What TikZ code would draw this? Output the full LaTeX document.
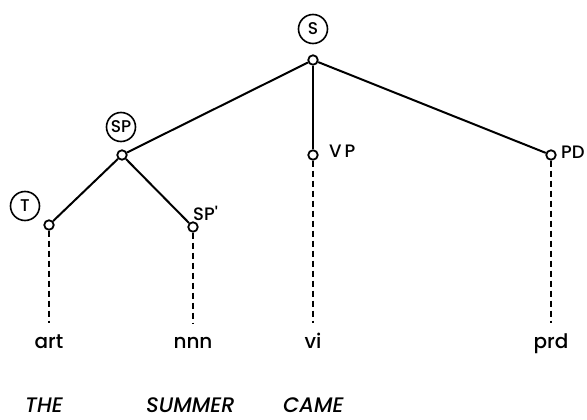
\documentclass[tikz,border=0pt]{standalone}
\usepackage{fontspec}
\setmainfont{Poppins}[UprightFont=* Medium, ItalicFont=* Medium Italic]
\begin{document}
\begin{tikzpicture}[x=1pt,y=-1pt,
  jn/.style={circle,draw,fill=white,line width=1.8pt,inner sep=0pt,minimum size=9.5pt},
  ring/.style={circle,draw,line width=1.6pt,inner sep=0pt,minimum size=29pt,font=\fontsize{17}{18}\selectfont},
  lab/.style={font=\fontsize{18}{20}\selectfont,inner sep=0pt,anchor=west},
  leaf/.style={font=\fontsize{20}{22}\selectfont,inner sep=0pt,anchor=base},
  wd/.style={font=\itshape\fontsize{21}{24}\selectfont,inner sep=0pt,anchor=base west},
  br/.style={line width=2pt},
  dl/.style={line width=1.3pt,dash pattern=on 6pt off 4pt}]
\useasboundingbox (0,0) rectangle (587,420);
% junctions
\node[jn] (S) at (313,60) {};
\node[jn] (SP) at (122,155) {};
\node[jn] (T) at (49,225) {};
\node[jn] (SPp) at (193,227) {};
\node[jn] (VP) at (313,155) {};
\node[jn] (PD) at (551,155) {};
% circled labels
\node[ring] (Sl) at (313,29) {S};
\node[ring] (SPl) at (121,127) {SP};
\node[ring] (Tl) at (25,206) {T};
% plain labels
\node[lab] (SPpl) at (193,213) {SP\textquotesingle};
\node[lab] (VPl) at (329,151) {V\,P};
\node[lab] (PDl) at (561,152) {PD};
% branches
\draw[br] (S) -- (SP);
\draw[br] (S) -- (VP);
\draw[br] (S) -- (PD);
\draw[br] (SP) -- (T);
\draw[br] (SP) -- (SPp);
% leaves
\node[leaf] (art) at (49,348) {art};
\node[leaf] (nnn) at (193,348) {nnn};
\node[leaf] (vi) at (313,348) {vi};
\node[leaf] (prd) at (551,348) {prd};
\coordinate (ae) at (49,323);
\coordinate (ne) at (193,323);
\coordinate (ve) at (313,323);
\coordinate (pe) at (551,323);
\draw[dl] (T) -- (ae);
\draw[dl] (SPp) -- (ne);
\draw[dl] (VP) -- (ve);
\draw[dl] (PD) -- (pe);
% words
\node[wd] (the) at (25,412) {THE};
\node[wd] (summer) at (146,412) {SUMMER};
\node[wd] (came) at (283,412) {CAME};
\end{tikzpicture}
\end{document}
